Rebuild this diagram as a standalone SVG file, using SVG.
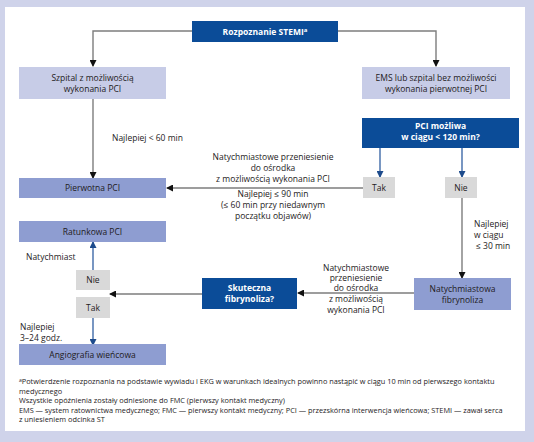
<svg xmlns="http://www.w3.org/2000/svg" width="534" height="442" viewBox="0 0 534 442">
<style>
text{font-family:"Open Sans","Noto Sans","Liberation Sans",sans-serif;font-size:8.5px;fill:#1e1b1c}
.c{text-anchor:middle}
.w{fill:#fff;font-weight:bold}
.fn{font-size:7.35px}
.dark{fill:#0b4c98}
.light{fill:#c7cce7}
.mid{fill:#8e9dd1}
.gray{fill:#d9d9d9}
.ln{fill:none;stroke:#7d7d7d;stroke-width:1.4}
.bl{fill:none;stroke:#3f6aa8;stroke-width:1.4}
</style>
<defs>
<marker id="ak" markerWidth="7" markerHeight="7" refX="6" refY="3.5" orient="auto" markerUnits="userSpaceOnUse"><path d="M0,0 L7,3.5 L0,7 Z" fill="#111"/></marker>
<marker id="ab" markerWidth="7" markerHeight="7" refX="6" refY="3.5" orient="auto" markerUnits="userSpaceOnUse"><path d="M0,0 L7,3.5 L0,7 Z" fill="#1d4b8c"/></marker>
</defs>
<rect x="0" y="0" width="534" height="442" fill="#cfd3ea"/>
<rect x="5" y="7" width="520" height="424" fill="#fff"/>
<g id="connectors">
<path class="ln" d="M192,31 H93 V66" marker-end="url(#ak)"/>
<path class="ln" d="M338,31 H436 V66" marker-end="url(#ak)"/>
<path class="ln" d="M93,99 V178" marker-end="url(#ak)"/>
<path class="bl" d="M380,148 V177" marker-end="url(#ab)"/>
<path class="bl" d="M462,148 V177" marker-end="url(#ab)"/>
<path class="ln" d="M363,188 H167" marker-end="url(#ak)"/>
<path class="ln" d="M462,198 V278" marker-end="url(#ak)"/>
<path class="ln" d="M414,293 H298" marker-end="url(#ak)"/>
<path class="ln" d="M202,294 H110" marker-end="url(#ak)"/>
<path class="bl" d="M93,270 V242" marker-end="url(#ab)"/>
<path class="bl" d="M93,318 V345" marker-end="url(#ab)"/>
</g>
<g id="stemi"><rect class="dark" x="192" y="21" width="146" height="21"/><text class="c w" x="265" y="34.5">Rozpoznanie STEMI<tspan font-size="6" dy="-3">a</tspan></text></g>
<g id="szpital"><rect class="light" x="19" y="67" width="147" height="32"/><text class="c" x="92.5" y="81">Szpital z możliwością</text><text class="c" x="92.5" y="92">wykonania PCI</text></g>
<g id="ems"><rect class="light" x="362" y="67" width="148" height="32"/><text class="c" x="436" y="81">EMS lub szpital bez możliwości</text><text class="c" x="436" y="92">wykonania pierwotnej PCI</text></g>
<g id="pci120"><rect class="dark" x="362" y="118" width="157" height="30"/><text class="c w" x="440.5" y="129">PCI możliwa</text><text class="c w" x="440.5" y="140">w ciągu &lt; 120 min?</text></g>
<g id="tak1"><rect class="gray" x="363" y="177" width="32" height="21"/><text class="c" x="379" y="190.5">Tak</text></g>
<g id="nie1"><rect class="gray" x="445" y="177" width="32" height="21"/><text class="c" x="461" y="190.5">Nie</text></g>
<g id="pierwotna"><rect class="mid" x="19" y="178" width="147" height="20"/><text class="c" x="92.5" y="191">Pierwotna PCI</text></g>
<g id="ratunkowa"><rect class="mid" x="19" y="221" width="147" height="21"/><text class="c" x="92.5" y="234.5">Ratunkowa PCI</text></g>
<g id="nie2"><rect class="gray" x="76" y="270" width="34" height="20"/><text class="c" x="93" y="283">Nie</text></g>
<g id="tak2"><rect class="gray" x="76" y="297" width="34" height="21"/><text class="c" x="93" y="310.5">Tak</text></g>
<g id="skuteczna"><rect class="dark" x="202" y="278" width="95" height="31"/><text class="c w" x="249.5" y="291">Skuteczna</text><text class="c w" x="249.5" y="302">fibrynoliza?</text></g>
<g id="natfib"><rect class="mid" x="414" y="278" width="97" height="32"/><text class="c" x="462.5" y="292">Natychmiastowa</text><text class="c" x="462.5" y="303">fibrynoliza</text></g>
<g id="angio"><rect class="mid" x="19" y="344" width="147" height="21"/><text class="c" x="92.5" y="357.5">Angiografia wieńcowa</text></g>
<g id="labels">
<text x="112" y="141">Najlepiej &lt; 60 min</text>
<text class="c" x="273" y="160">Natychmiastowe przeniesienie</text>
<text class="c" x="273" y="171">do ośrodka</text>
<text class="c" x="273" y="182">z możliwością wykonania PCI</text>
<text class="c" x="273" y="197">Najlepiej ≤ 90 min</text>
<text class="c" x="273" y="208">(≤ 60 min przy niedawnym</text>
<text class="c" x="273" y="219">początku objawów)</text>
<text x="474" y="227">Najlepiej</text>
<text x="474" y="238">w ciągu</text>
<text x="476" y="249">≤ 30 min</text>
<text class="c" x="356" y="271">Natychmiastowe</text>
<text class="c" x="356" y="281">przeniesienie</text>
<text class="c" x="356" y="291">do ośrodka</text>
<text class="c" x="356" y="302">z możliwością</text>
<text class="c" x="356" y="313">wykonania PCI</text>
<text x="26" y="260">Natychmiast</text>
<text x="20" y="330">Najlepiej</text>
<text x="20" y="341">3–24 godz.</text>
</g>
<g id="footnote">
<text class="fn" x="19" y="384"><tspan font-size="5" dy="-2.5">a</tspan><tspan dy="2.5">Potwierdzenie rozpoznania na podstawie wywiadu i EKG w warunkach idealnych powinno nastąpić w ciągu 10 min od pierwszego kontaktu</tspan></text>
<text class="fn" x="19" y="393.5">medycznego</text>
<text class="fn" x="19" y="403">Wszystkie opóźnienia zostały odniesione do FMC (pierwszy kontakt medyczny)</text>
<text class="fn" x="19" y="412.5">EMS — system ratownictwa medycznego; FMC — pierwszy kontakt medyczny; PCI — przezskórna interwencja wieńcowa; STEMI — zawał serca</text>
<text class="fn" x="19" y="422">z uniesieniem odcinka ST</text>
</g>
</svg>
